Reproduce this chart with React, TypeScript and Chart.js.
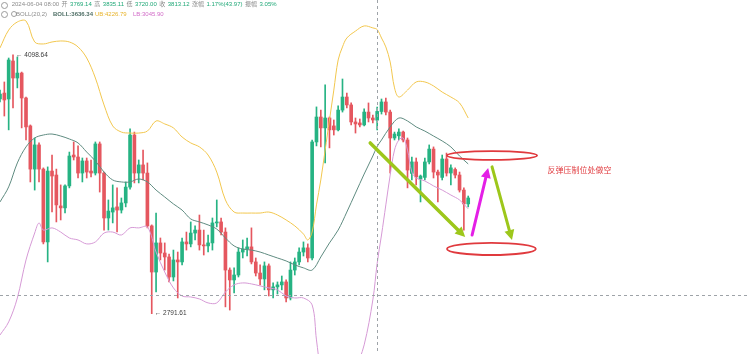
import React, { useEffect, useRef } from 'react';
import { Chart, registerables } from 'chart.js';

Chart.register(...registerables);

// ---- data (4h candles, prices) ----
const TOTAL_SLOTS = 174; // candle slots across the full width (incl. empty future space)

const opens = [
  3876, 3906, 3876, 4068, 3982, 4007, 3881, 3740, 3522, 3644,
  3522, 3154, 3512, 3492, 3336, 3326, 3437, 3593, 3583, 3502,
  3563, 3512, 3502, 3649, 3502, 3275, 3305, 3331, 3315, 3351,
  3431, 3694, 3502, 3543, 3502, 3235, 3002, 3149, 3098, 3078,
  2977, 3063, 3053, 3154, 3144, 3199, 3214, 3139, 3134, 3149,
  3250, 3255, 3204, 3012, 2962, 2987, 3103, 3118, 3129, 3053,
  2997, 2967, 3033, 2912, 2927, 2937, 2952, 2871, 3012, 3053,
  3103, 3124, 3073, 3659, 3785, 3730, 3780, 3740, 3720, 3820,
  3886, 3846, 3760, 3755, 3745, 3810, 3780, 3769.14, 3813, 3861,
  3810, 3679, 3690, 3709, 3669, 3500, 3558, 3472, 3480, 3558,
  3623, 3507, 3480, 3573, 3502, 3520, 3492, 3416, 3346,
];
const highs = [
  3921, 3962, 4083, 4098.64, 4088, 4012, 3886, 3745, 3679, 3654,
  3528, 3533, 3593, 3522, 3442, 3442, 3608, 3659, 3639, 3578,
  3578, 3568, 3659, 3659, 3507, 3366, 3442, 3427, 3376, 3457,
  3725, 3709, 3568, 3618, 3553, 3240, 3300, 3174, 3149, 3093,
  3113, 3103, 3174, 3204, 3255, 3235, 3290, 3214, 3189, 3275,
  3366, 3275, 3225, 3023, 3023, 3124, 3164, 3174, 3225, 3073,
  3038, 3053, 3043, 2947, 2952, 2982, 2962, 3053, 3073, 3124,
  3154, 3144, 3669, 3836, 3820, 3947, 3785, 3770, 3841, 3977,
  3906, 3856, 3780, 3775, 3826, 3856, 3795, 3835.11, 3876, 3881,
  3820, 3709, 3725, 3714, 3679, 3583, 3578, 3492, 3578, 3644,
  3634, 3517, 3593, 3603, 3543, 3528, 3507, 3427, 3386,
];
const lows = [
  3861, 3790, 3720, 3831, 3932, 3730, 3669, 3457, 3416, 3457,
  3144, 3053, 3305, 3255, 3265, 3300, 3427, 3568, 3477, 3457,
  3477, 3482, 3492, 3406, 3214, 3214, 3250, 3204, 3300, 3331,
  3420, 3452, 3452, 3467, 3225, 2791.61, 2901, 3063, 3012, 2952,
  2957, 2871, 3038, 3113, 3129, 3164, 3113, 3088, 3103, 3113,
  3230, 3189, 2826, 2810, 2896, 2977, 3073, 3083, 3043, 2982,
  2937, 2912, 2881, 2871, 2891, 2912, 2851, 2861, 2987, 3038,
  3083, 3053, 3063, 3639, 3634, 3553, 3629, 3694, 3715, 3810,
  3831, 3745, 3704, 3735, 3740, 3760, 3755, 3720, 3800, 3795,
  3502, 3669, 3669, 3659, 3427, 3467, 3442, 3356, 3467, 3548,
  3477, 3356, 3467, 3487, 3442, 3477, 3406, 3214, 3331,
];
const closes = [
  3901, 3871, 4073, 3982, 4007, 3881, 3735, 3522, 3644, 3522,
  3154, 3512, 3487, 3341, 3326, 3437, 3588, 3583, 3502, 3563,
  3507, 3502, 3649, 3502, 3275, 3310, 3326, 3315, 3351, 3431,
  3694, 3502, 3543, 3502, 3235, 3002, 3149, 3098, 3078, 2977,
  3063, 3053, 3154, 3144, 3199, 3214, 3139, 3134, 3149, 3250,
  3255, 3204, 3012, 2962, 2987, 3103, 3118, 3129, 3053, 2997,
  2967, 3033, 2912, 2927, 2937, 2952, 2871, 3012, 3053, 3103,
  3124, 3073, 3659, 3785, 3730, 3780, 3720, 3720, 3820, 3886,
  3846, 3760, 3750, 3745, 3810, 3780, 3770, 3813.12, 3861, 3810,
  3679, 3699, 3709, 3669, 3517, 3558, 3482, 3487, 3558, 3623,
  3507, 3492, 3573, 3502, 3528, 3492, 3416, 3346, 3376,
];

// Bollinger bands (20,2): [candle index, price]
const upperBand: [number, number][] = [
  [0, 4134], [2, 4224], [4, 4265], [6, 4270], [8, 4164], [10, 4154], [12, 4164], [14, 4169],
  [16, 4164], [18, 4139], [20, 4083], [22, 3982], [24, 3846], [26, 3740], [28, 3709], [30, 3704],
  [32, 3704], [34, 3714], [36, 3765], [38, 3750], [40, 3730], [42, 3684], [44, 3654], [46, 3634],
  [48, 3593], [50, 3507], [52, 3366], [54, 3305], [56, 3300], [58, 3300], [60, 3300], [62, 3305],
  [64, 3290], [66, 3265], [68, 3235], [70, 3194], [71, 3164], [72, 3204], [73, 3341], [74, 3467],
  [75, 3618], [76, 3770], [77, 3921], [78, 4073], [79, 4139], [80, 4184], [82, 4219], [84, 4245],
  [86, 4235], [87, 4226.79], [88, 4184], [89, 4139], [90, 4063], [91, 3932], [92, 3886], [94, 3921],
  [96, 3962], [98, 3962], [100, 3942], [102, 3911], [104, 3886], [106, 3856], [108, 3780],
];
const midBand: [number, number][] = [
  [0, 3356], [2, 3432], [4, 3553], [6, 3634], [8, 3679], [10, 3694], [12, 3699], [14, 3689],
  [16, 3674], [18, 3654], [20, 3608], [22, 3563], [24, 3507], [26, 3467], [28, 3457], [30, 3457],
  [32, 3472], [34, 3457], [36, 3416], [38, 3381], [40, 3346], [42, 3315], [44, 3270], [46, 3255],
  [48, 3240], [50, 3219], [52, 3174], [54, 3134], [56, 3118], [58, 3113], [60, 3103], [62, 3088],
  [64, 3073], [66, 3058], [68, 3038], [70, 3023], [72, 3012], [74, 3078], [76, 3149], [78, 3214],
  [80, 3305], [82, 3401], [84, 3497], [86, 3588], [87, 3636.34], [88, 3669], [90, 3735], [92, 3780],
  [94, 3765], [96, 3735], [98, 3714], [100, 3689], [102, 3664], [104, 3634], [106, 3588], [108, 3548],
];
const lowerBand: [number, number][] = [
  [0, 2684], [2, 2750], [4, 2871], [6, 3063], [8, 3199], [9, 3250], [10, 3214], [12, 3225],
  [14, 3204], [16, 3174], [18, 3164], [20, 3144], [22, 3154], [24, 3199], [26, 3204], [28, 3189],
  [30, 3225], [32, 3225], [34, 3230], [36, 3103], [38, 3002], [40, 2922], [42, 2881], [44, 2876],
  [46, 2866], [48, 2846], [50, 2846], [52, 2901], [54, 2937], [56, 2947], [58, 2942], [60, 2932],
  [62, 2922], [64, 2912], [66, 2881], [68, 2871], [70, 2871], [72, 2836], [73, 2659], [74, 2507],
  [76, 2356], [78, 2305], [80, 2381], [82, 2507], [84, 2634], [86, 2861], [87, 3045.9], [88, 3189],
  [89, 3341], [90, 3492], [91, 3618], [92, 3669], [93, 3679], [94, 3618], [95, 3507], [96, 3477],
  [98, 3462], [100, 3437], [102, 3416], [104, 3391], [106, 3366], [108, 3321],
];

const Y_MIN = 2588;
const Y_MAX = 4376;

const crosshair = { index: 87, price: 2886 };
const highMark = { index: 3, text: '← 4098.64' };
const lowMark = { index: 35, text: '← 2791.61' };

// annotations in data coordinates (slot index, price)
const ellipses = [
  { x0: 103.1, x1: 123.9, p0: 3613, p1: 3568 },
  { x0: 103.1, x1: 123.6, p0: 3149, p1: 3088 },
];
const arrows = [
  { x0: 85.4, p0: 3654, x1: 107.3, p1: 3179, color: '#9dc71b', width: 3.5 },
  { x0: 108.9, p0: 3189, x1: 112.6, p1: 3528, color: '#e41fe6', width: 3 },
  { x0: 113.5, p0: 3533, x1: 118.1, p1: 3164, color: '#9dc71b', width: 3 },
];
const note = { index: 126.3, price: 3517, text: '反弹压制位处做空' };

const headerDate = '2024-06-04 08:00';
const headerLabels = ['开', '高', '低', '收', '涨幅', '振幅'];
const headerValues = ['3769.14', '3835.11', '3720.00', '3813.12', '1.17%(43.97)', '3.05%'];
const bollTexts = ['BOLL(20,2)', 'BOLL:3636.34', 'UB:4226.79', 'LB:3045.90'];

const GREEN = '#26b383';
const RED = '#e5575f';
const UP_COLOR = '#f2c74e';
const MID_COLOR = '#5f8b80';
const LOW_COLOR = '#d69ad6';

const overlayPlugin = {
  id: 'overlay',
  afterDatasetsDraw(chart: any) {
    const { ctx, scales, chartArea } = chart;
    const xs = scales.x;
    const ys = scales.y;
    ctx.save();
    // crosshair
    ctx.strokeStyle = '#9ea3a8';
    ctx.lineWidth = 1;
    ctx.setLineDash([3, 3]);
    const cx = Math.round(xs.getPixelForValue(crosshair.index)) + 0.5;
    const cy = Math.round(ys.getPixelForValue(crosshair.price)) + 0.5;
    ctx.beginPath();
    ctx.moveTo(cx, chartArea.top);
    ctx.lineTo(cx, chartArea.bottom);
    ctx.moveTo(chartArea.left, cy);
    ctx.lineTo(chartArea.right, cy);
    ctx.stroke();
    ctx.setLineDash([]);

    // high / low marks
    ctx.fillStyle = '#3a3a3a';
    ctx.font = '6.5px "Liberation Sans", "DejaVu Sans", sans-serif';
    ctx.textBaseline = 'middle';
    ctx.textAlign = 'left';
    ctx.fillText(highMark.text, xs.getPixelForValue(highMark.index) + 3, ys.getPixelForValue(highs[highMark.index]));
    ctx.fillText(lowMark.text, xs.getPixelForValue(lowMark.index) + 3, ys.getPixelForValue(lows[lowMark.index]));

    // ellipses
    ctx.strokeStyle = '#e03a3e';
    ctx.lineWidth = 1.8;
    ellipses.forEach((e) => {
      const x0 = xs.getPixelForValue(e.x0);
      const x1 = xs.getPixelForValue(e.x1);
      const y0 = ys.getPixelForValue(e.p0);
      const y1 = ys.getPixelForValue(e.p1);
      ctx.beginPath();
      ctx.ellipse((x0 + x1) / 2, (y0 + y1) / 2, Math.abs(x1 - x0) / 2, Math.abs(y1 - y0) / 2, 0, 0, Math.PI * 2);
      ctx.stroke();
    });

    // arrows
    arrows.forEach((a) => {
      const x0 = xs.getPixelForValue(a.x0);
      const y0 = ys.getPixelForValue(a.p0);
      const x1 = xs.getPixelForValue(a.x1);
      const y1 = ys.getPixelForValue(a.p1);
      const ang = Math.atan2(y1 - y0, x1 - x0);
      const headLen = 10;
      const headHalf = 5;
      const bx = x1 - headLen * Math.cos(ang);
      const by = y1 - headLen * Math.sin(ang);
      ctx.strokeStyle = a.color;
      ctx.fillStyle = a.color;
      ctx.lineWidth = a.width;
      ctx.lineCap = 'round';
      ctx.beginPath();
      ctx.moveTo(x0, y0);
      ctx.lineTo(bx, by);
      ctx.stroke();
      ctx.beginPath();
      ctx.moveTo(x1, y1);
      ctx.lineTo(bx + headHalf * Math.sin(ang), by - headHalf * Math.cos(ang));
      ctx.lineTo(bx - headHalf * Math.sin(ang), by + headHalf * Math.cos(ang));
      ctx.closePath();
      ctx.fill();
    });

    // note text
    ctx.fillStyle = '#e03a3e';
    ctx.font = '8px "Noto Sans CJK SC", sans-serif';
    ctx.textBaseline = 'middle';
    ctx.fillText(note.text, xs.getPixelForValue(note.index), ys.getPixelForValue(note.price));
    ctx.restore();
  },
};

function toSeries(pairs: [number, number][]) {
  const arr: (number | null)[] = new Array(TOTAL_SLOTS).fill(null);
  pairs.forEach(([i, v]) => {
    arr[i] = v;
  });
  return arr;
}

export default function App() {
  const ref = useRef<HTMLCanvasElement>(null);

  useEffect(() => {
    if (!ref.current) return;
    const labels = Array.from({ length: TOTAL_SLOTS }, (_, i) => String(i));
    const bodies = opens.map((o, i) => [Math.min(o, closes[i]), Math.max(o, closes[i])]);
    const wicks = lows.map((l, i) => [l, highs[i]]);
    const colors = opens.map((o, i) => (closes[i] >= o ? GREEN : RED));
    const lineBase = {
      type: 'line' as const,
      borderWidth: 1,
      pointRadius: 0,
      spanGaps: true,
      tension: 0.35,
      fill: false,
      order: 0,
    };
    const chart = new Chart(ref.current, {
      type: 'bar',
      data: {
        labels,
        datasets: [
          { ...lineBase, data: toSeries(upperBand), borderColor: UP_COLOR },
          { ...lineBase, data: toSeries(midBand), borderColor: MID_COLOR },
          { ...lineBase, data: toSeries(lowerBand), borderColor: LOW_COLOR },
          {
            type: 'bar',
            data: bodies as any,
            backgroundColor: colors,
            barThickness: 3,
            minBarLength: 1,
            grouped: false,
            order: 1,
          } as any,
          {
            type: 'bar',
            data: wicks as any,
            backgroundColor: colors,
            barThickness: 1,
            grouped: false,
            order: 2,
          } as any,
        ],
      },
      options: {
        animation: false,
        responsive: false,
        maintainAspectRatio: false,
        devicePixelRatio: 1,
        events: [],
        layout: { padding: 0 },
        plugins: { legend: { display: false }, tooltip: { enabled: false } },
        scales: {
          x: { display: false, offset: false },
          y: { display: false, min: Y_MIN, max: Y_MAX },
        },
      },
      plugins: [overlayPlugin],
    });
    return () => chart.destroy();
  }, []);

  const font = '"Liberation Sans", "Noto Sans CJK SC", sans-serif';
  const circle = (top: number) => (
    <div
      style={{
        position: 'absolute',
        left: 0.5,
        top,
        width: 5,
        height: 5,
        borderRadius: '50%',
        border: '0.8px solid #9a9a9a',
      }}
    />
  );

  return (
    <div style={{ position: 'fixed', left: 0, top: 0, width: 750, height: 354, background: '#ffffff', overflow: 'hidden' }}>
      <canvas ref={ref} width={750} height={354} style={{ position: 'absolute', left: 0, top: 0, width: 750, height: 354 }} />
      {circle(1.5)}
      {circle(10.5)}
      <div
        style={{
          position: 'absolute',
          left: 11.7,
          top: 1.2,
          display: 'flex',
          gap: 2.5,
          fontFamily: font,
          fontSize: 6,
          lineHeight: '6px',
          whiteSpace: 'nowrap',
          color: '#8c8c8c',
        }}
      >
        <span>{headerDate}</span>
        {headerLabels.map((l, i) => (
          <React.Fragment key={l}>
            <span>{l}</span>
            <span style={{ color: '#1fa877' }}>{headerValues[i]}</span>
          </React.Fragment>
        ))}
      </div>
      <div style={{ position: 'absolute', left: 10.5, top: 11, width: 4, height: 4, borderRadius: '50%', border: '0.8px solid #a0a0a0' }} />
      {[16, 53, 95, 133].map((x, i) => (
        <div
          key={bollTexts[i]}
          style={{
            position: 'absolute',
            left: x,
            top: 10.5,
            fontFamily: font,
            fontSize: 6,
            lineHeight: '6px',
            whiteSpace: 'nowrap',
            fontWeight: i === 1 ? 700 : 400,
            color: ['#8c8c8c', '#4f6f66', '#e8b42c', '#d26cc8'][i],
          }}
        >
          {bollTexts[i]}
        </div>
      ))}
    </div>
  );
}
